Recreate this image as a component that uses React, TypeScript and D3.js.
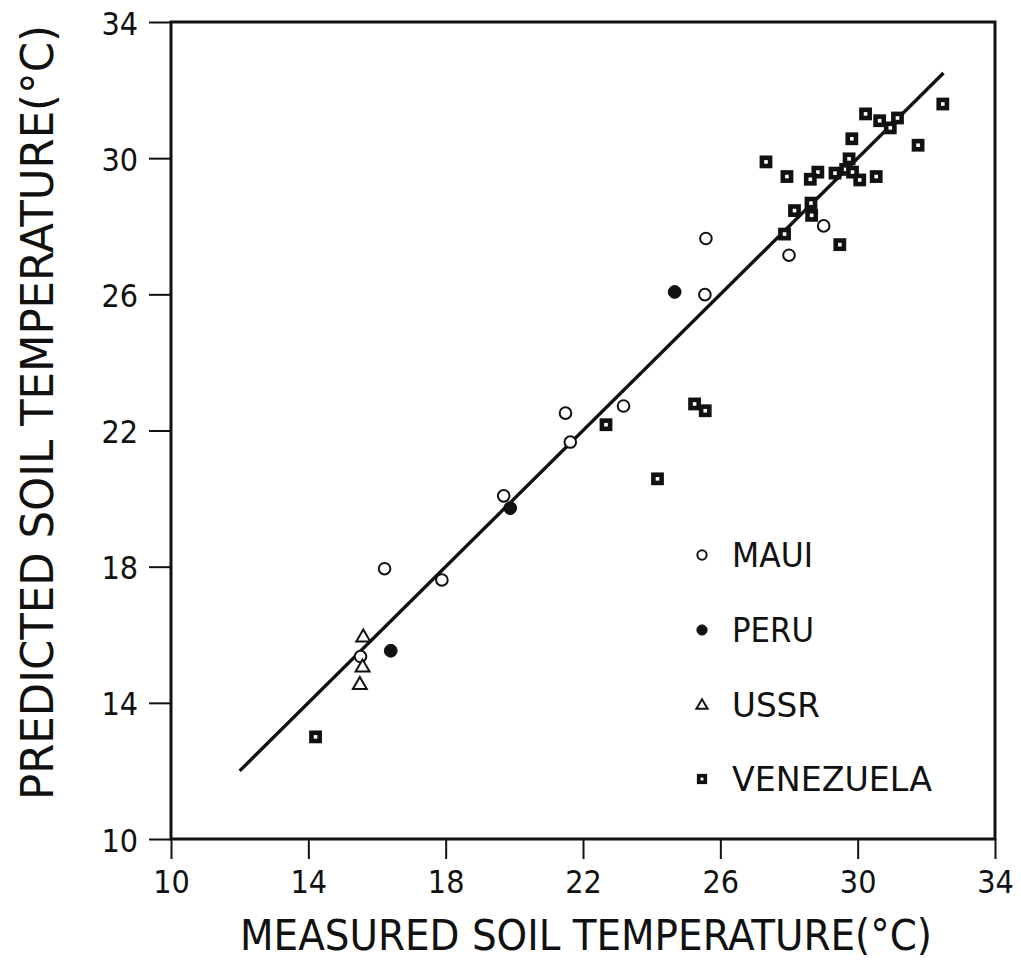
import React, { useEffect, useRef } from "react";
import * as d3 from "d3";

const xTicks = [10, 14, 18, 22, 26, 30, 34];
const yTicks = [10, 14, 18, 22, 26, 30, 34];

const maui: [number, number][] = [
  [25.58, 27.64], [25.55, 25.99], [29.01, 28.01], [28.0, 27.15],
  [21.49, 22.51], [23.18, 22.72], [21.63, 21.66], [19.69, 20.08],
  [16.22, 17.94], [17.89, 17.61], [15.52, 15.36],
];
const peru: [number, number][] = [
  [24.67, 26.07], [19.88, 19.72], [16.4, 15.53],
];
const ussr: [number, number][] = [
  [15.6, 15.94], [15.58, 15.06], [15.5, 14.55],
];
const venezuela: [number, number][] = [
  [32.48, 31.59], [30.23, 31.3], [30.64, 31.1], [31.16, 31.18], [30.95, 30.89],
  [29.83, 30.57], [31.76, 30.38], [27.33, 29.89], [29.75, 29.98], [27.94, 29.46],
  [28.84, 29.59], [28.62, 29.38], [29.34, 29.56], [29.65, 29.67], [29.85, 29.59],
  [30.06, 29.36], [30.54, 29.46], [28.64, 28.68], [28.16, 28.46], [28.66, 28.32],
  [27.87, 27.77], [29.48, 27.46], [22.67, 22.17], [25.25, 22.78], [25.56, 22.58],
  [24.17, 20.58], [14.21, 13.0],
];
const fitLine: [number, number][] = [[12, 12], [32.5, 32.5]];
const legendLabels = ["MAUI", "PERU", "USSR", "VENEZUELA"];

const FONT = "'DejaVu Sans Condensed', 'Liberation Sans Narrow', 'DejaVu Sans', sans-serif";

export default function App() {
  const ref = useRef<SVGSVGElement | null>(null);

  useEffect(() => {
    const svg = d3.select(ref.current);
    svg.selectAll("*").remove();
    const L = 171, R = 995, T = 22, B = 839;
    const x = d3.scaleLinear().domain([10, 34]).range([L, R]);
    const y = d3.scaleLinear().domain([10, 34]).range([B, T]);

    svg.append("rect").attr("x", L).attr("y", T).attr("width", R - L).attr("height", B - T)
      .attr("fill", "none").attr("stroke", "#111").attr("stroke-width", 3);

    const gx = svg.append("g").attr("transform", `translate(0,${B})`)
      .call(d3.axisBottom(x).tickValues(xTicks).tickSize(20).tickFormat(d3.format("d")));
    gx.select(".domain").remove();
    gx.selectAll("line").attr("stroke", "#111").attr("stroke-width", 2);
    gx.selectAll("text").attr("y", 54).attr("dy", 0).attr("fill", "#111")
      .attr("font-family", FONT).attr("font-size", 32).style("font-size", "32px");

    const gy = svg.append("g").attr("transform", `translate(${L},0)`)
      .call(d3.axisLeft(y).tickValues(yTicks).tickSize(22).tickFormat(d3.format("d")));
    gy.select(".domain").remove();
    gy.selectAll("line").attr("stroke", "#111").attr("stroke-width", 2);
    gy.selectAll("text").attr("x", -33).attr("dy", 0).attr("y", 12).attr("fill", "#111")
      .attr("font-family", FONT).attr("font-size", 32).style("font-size", "32px");

    svg.append("text").attr("x", 240).attr("y", 950).text("MEASURED SOIL TEMPERATURE(°C)")
      .attr("fill", "#111").style("font-family", FONT).style("font-size", "42px")
      .attr("textLength", 692).attr("lengthAdjust", "spacingAndGlyphs");
    svg.append("text").attr("transform", "translate(53,800) rotate(-90)")
      .text("PREDICTED SOIL TEMPERATURE(°C)")
      .attr("fill", "#111").style("font-family", FONT).style("font-size", "44px")
      .attr("textLength", 775).attr("lengthAdjust", "spacingAndGlyphs");

    const line = d3.line<[number, number]>().x(d => x(d[0])).y(d => y(d[1]));
    svg.append("path").attr("d", line(fitLine)).attr("fill", "none")
      .attr("stroke", "#111").attr("stroke-width", 3.4);

    const tri = (s: number) => `M0,${-s * 0.6}L${s * 0.58},${s * 0.4}L${-s * 0.58},${s * 0.4}Z`;

    const drawMarker = (g: any, kind: string, small: boolean) => {
      const k = small ? 0.8 : 1;
      if (kind === "MAUI") {
        g.append("circle").attr("r", 5.8 * k).attr("fill", "#fff").attr("stroke", "#111").attr("stroke-width", 2);
      } else if (kind === "PERU") {
        g.append("circle").attr("r", 6.4 * k).attr("fill", "#111").attr("stroke", "#111").attr("stroke-width", 1);
      } else if (kind === "USSR") {
        g.append("path").attr("d", tri(12 * k)).attr("fill", "#fff").attr("stroke", "#111").attr("stroke-width", 2);
      } else {
        const s = 8.2 * k;
        g.append("rect").attr("x", -s / 2).attr("y", -s / 2).attr("width", s).attr("height", s)
          .attr("fill", "#fff").attr("stroke", "#111").attr("stroke-width", 4.6 * k);
      }
    };

    const series: [string, [number, number][]][] = [
      ["VENEZUELA", venezuela], ["MAUI", maui], ["PERU", peru], ["USSR", ussr],
    ];
    series.forEach(([kind, data]) => {
      data.forEach(d => {
        const g = svg.append("g").attr("transform", `translate(${x(d[0])},${y(d[1])})`);
        drawMarker(g, kind, false);
      });
    });

    const legendY = [555, 630, 705, 779];
    const legendW = [81, 82, 88, 200];
    legendLabels.forEach((lab, i) => {
      const g = svg.append("g").attr("transform", `translate(702,${legendY[i]})`);
      drawMarker(g, lab, true);
      svg.append("text").attr("x", 732).attr("y", legendY[i] + 12).text(lab)
        .attr("fill", "#111").style("font-family", FONT).style("font-size", "34px")
        .attr("textLength", legendW[i]).attr("lengthAdjust", "spacingAndGlyphs");
    });
  }, []);

  return (
    <svg ref={ref} width={1021} height={965}
      style={{ position: "absolute", left: 0, top: 0, background: "#fff" }} />
  );
}
